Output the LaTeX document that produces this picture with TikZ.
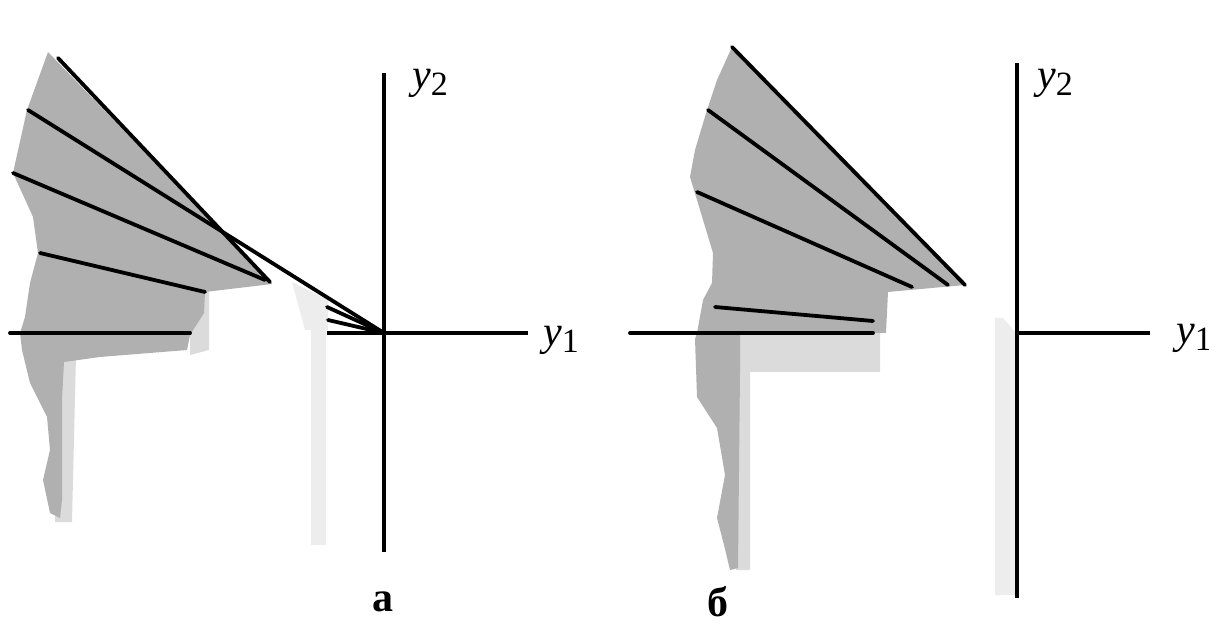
\documentclass[tikz,border=0pt]{standalone}
\usepackage{fontspec}
\setmainfont{Liberation Serif}
\newcommand{\lbltext}[2]{{\itshape #1}\raisebox{-0.4ex}{\upshape\fontsize{17}{17}\selectfont #2}}
\begin{document}
\begin{tikzpicture}[x=0.5pt,y=-0.5pt,
  ray/.style={line width=1.9pt, line cap=round},
  axis/.style={line width=2pt},
  dark/.style={fill=gray!62, draw=none},
  light/.style={fill=gray!28, draw=none},
  faint/.style={fill=gray!14, draw=none},
  lbl/.style={font=\fontsize{21}{21}\selectfont, inner sep=0pt},
  caplbl/.style={font=\bfseries\fontsize{21}{21}\selectfont, inner sep=0pt}]
\useasboundingbox (0,0) rectangle (1209,625);

% ---------- panel a : shaded region ----------
\fill[light] (190,290) -- (209,290) -- (209,350) -- (190,355) -- cycle;
\fill[light] (55,355) -- (76,355) -- (72,522) -- (55,522) -- cycle;
\fill[faint] (292,282) -- (328,300) -- (328,330) -- (305,330) -- cycle;
\fill[faint] (311,318) -- (326,318) -- (326,545) -- (311,545) -- cycle;
\fill[dark] (48,52) -- (272,284) -- (205,292) -- (204,313) -- (190,335)
  -- (187,350) -- (100,357) -- (64,362) -- (62,400) -- (62,500) -- (60,518)
  -- (50,513) -- (43,480) -- (50,450) -- (47,417) -- (30,383) -- (22,350)
  -- (20,333) -- (25,317) -- (30,283) -- (38,253) -- (33,217) -- (13,173)
  -- (27,110) -- cycle;

% ---------- panel b : shaded region ----------
\fill[light] (740,333) -- (880,333) -- (880,372) -- (750,372) -- (750,570)
  -- (736,570) -- cycle;
\fill[faint] (995,318) -- (1003,318) -- (1016,333) -- (1016,595) -- (995,595) -- cycle;
\fill[dark] (732,47) -- (965,285) -- (888,292) -- (886,333) -- (740,333)
  -- (740,372) -- (738,568) -- (730,570) -- (725,549) -- (717,518)
  -- (725,475) -- (717,428) -- (697,397) -- (695,339) -- (697,333)
  -- (703,300) -- (712,283) -- (713,253) -- (707,233) -- (697,200)
  -- (690,177) -- (695,150) -- (707,110) -- (717,80) -- cycle;

% ---------- panel a : axes and rays ----------
\coordinate (Oa) at (384,333);
\coordinate (Ya) at (384,73);
\coordinate (YaB) at (384,552);
\coordinate (XaL) at (327,333);
\coordinate (XaR) at (528,333);
\draw[axis] (Ya) -- (YaB);
\draw[axis] (XaL) -- (XaR);

\coordinate (a1s) at (58,58);   \coordinate (a1e) at (270,282);
\coordinate (a2s) at (28,110);
\coordinate (a3s) at (13,173);  \coordinate (a3e) at (265,280);
\coordinate (a4s) at (40,253);  \coordinate (a4e) at (205,292);
\coordinate (a5s) at (10,333);  \coordinate (a5e) at (190,333);
\coordinate (a6s) at (327,307);
\coordinate (a7s) at (328,320);
\draw[ray] (a1s) -- (a1e);
\draw[ray] (a2s) -- (Oa);
\draw[ray] (a3s) -- (a3e);
\draw[ray] (a4s) -- (a4e);
\draw[ray] (a5s) -- (a5e);
\draw[ray] (a6s) -- (Oa);
\draw[ray] (a7s) -- (Oa);

% ---------- panel b : axes and rays ----------
\coordinate (Ob) at (1017,333);
\coordinate (Yb) at (1017,63);
\coordinate (YbB) at (1017,598);
\coordinate (XbR) at (1150,333);
\draw[axis] (Yb) -- (YbB);
\draw[axis] (Ob) -- (XbR);

\coordinate (b1s) at (732,47);  \coordinate (b1e) at (965,285);
\coordinate (b2s) at (708,110); \coordinate (b2e) at (948,285);
\coordinate (b3s) at (697,192); \coordinate (b3e) at (912,287);
\coordinate (b4s) at (715,307); \coordinate (b4e) at (873,321);
\coordinate (b5s) at (630,333); \coordinate (b5e) at (873,333);
\draw[ray] (b1s) -- (b1e);
\draw[ray] (b2s) -- (b2e);
\draw[ray] (b3s) -- (b3e);
\draw[ray] (b4s) -- (b4e);
\draw[ray] (b5s) -- (b5e);

% ---------- labels ----------
\node[lbl] (y2a) at (430,83) {\lbltext{y}{2}};
\node[lbl] (y1a) at (561,340) {\lbltext{y}{1}};
\node[lbl] (y2b) at (1055,83) {\lbltext{y}{2}};
\node[lbl] (y1b) at (1194,338) {\lbltext{y}{1}};
\node[caplbl] (capa) at (383,602) {а};
\node[caplbl] (capb) at (718,602) {б};
\end{tikzpicture}
\end{document}
